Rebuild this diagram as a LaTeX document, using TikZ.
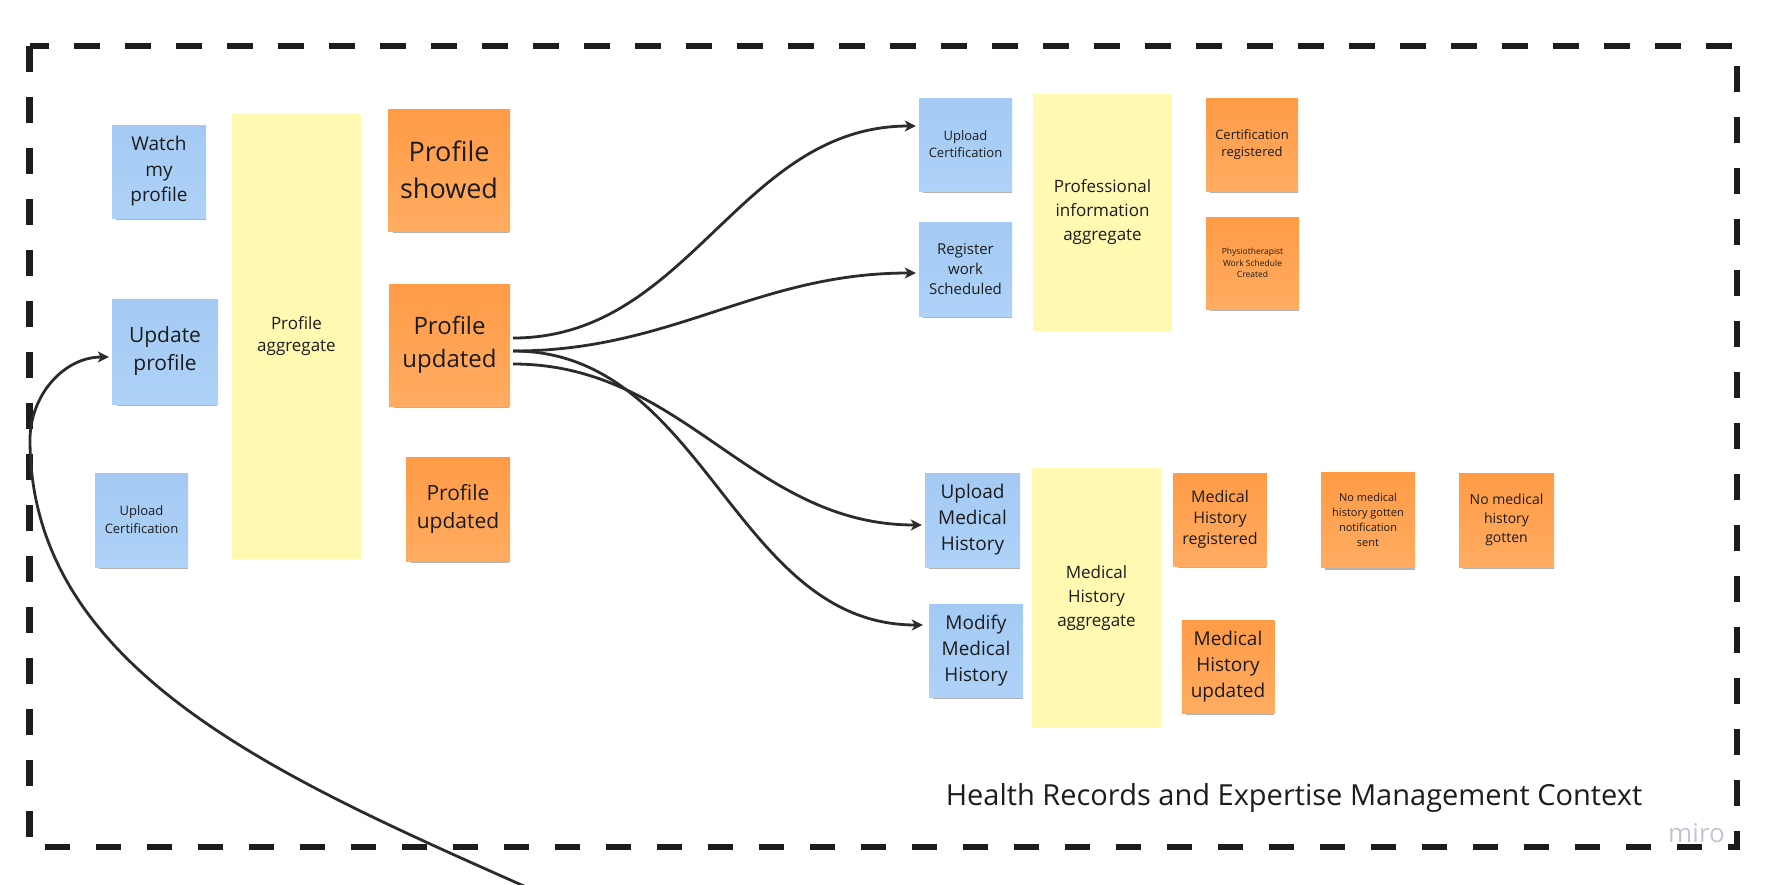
\documentclass[tikz,border=0pt]{standalone}
\usepackage{fontspec}
\setmainfont{Open Sans}
\usetikzlibrary{arrows.meta,shadows}
\definecolor{cmdblue}{RGB}{164,202,244}
\definecolor{cmdblueb}{RGB}{174,210,248}
\definecolor{evtorange}{RGB}{255,155,70}
\definecolor{evtorangeb}{RGB}{255,172,98}
\definecolor{aggyellow}{RGB}{255,249,177}
\definecolor{ink}{RGB}{28,28,28}
\definecolor{wire}{RGB}{43,43,43}
\definecolor{watermark}{RGB}{196,196,210}
\newcommand{\fsz}[2]{\fontsize{#1}{#2}\selectfont}

\begin{document}
\begin{tikzpicture}
        [
            x = 1pt, y = -1pt,
            wh/.style 2 args={minimum width=#1pt, minimum height=#2pt},
            sticky/.style={align=center, text=ink, inner sep=2pt,
                drop shadow={shadow xshift=2pt, shadow yshift=-5pt, shadow scale=.95, opacity=.3, fill=black}},
            cmd/.style={sticky, top color=cmdblue, bottom color=cmdblueb},
            evt/.style={sticky, top color=evtorange, bottom color=evtorangeb},
            agg/.style={fill=aggyellow, align=center, text=ink, inner sep=2pt},
            flow/.style={draw=wire, line width=2.8pt, -{Stealth[length=11pt,width=11pt,inset=3pt]},
                shorten >=3pt, shorten <=3pt},
        ]
        \useasboundingbox (0,0) rectangle (1766,884);
        \draw[line width=6.5pt, draw=ink, dash pattern=on 25.5pt off 25.5pt] (29.5,46) rectangle (1737,847);

        \node[cmd, wh={94}{93}, font=\fsz{19}{25.5}] (watch) at (159,171.5) {Watch\\my\\profile};
        \node[cmd, wh={106}{105}, font=\fsz{21}{28}] (updateProfile) at (165,351.5) {Update\\profile};
        \node[cmd, wh={93}{94}, font=\fsz{13}{18}] (uploadCertA) at (141.5,520) {Upload\\Certification};
        \node[agg, wh={129}{445}, font=\fsz{17}{22}] (profileAgg) at (296.5,336.5) {Profile\\aggregate};
        \node[evt, wh={122}{122}, font=\fsz{27}{37}] (profileShowed) at (449,170) {Profile\\showed};
        \node[evt, wh={121}{122}, font=\fsz{24}{33}] (profileUpdatedA) at (449.5,345) {Profile\\updated};
        \node[evt, wh={104}{104}, font=\fsz{21}{28}] (profileUpdatedB) at (458,509) {Profile\\updated};

        \node[cmd, wh={93}{93}, font=\fsz{13}{17}] (uploadCertB) at (965.5,144.5) {Upload\\Certification};
        \node[cmd, wh={93}{94}, font=\fsz{15}{20}] (registerWork) at (965.5,269) {Register\\work\\Scheduled};
        \node[agg, wh={139}{237}, font=\fsz{17}{24}] (profInfoAgg) at (1102.5,212.5) {Professional\\information\\aggregate};
        \node[evt, wh={92}{93}, font=\fsz{13}{17}] (certRegistered) at (1252,144.5) {Certification\\registered};
        \node[evt, wh={93}{92}, font=\fsz{8.5}{11.7}] (workSchedule) at (1252.5,263) {Physiotherapist\\Work Schedule\\Created};

        \node[cmd, wh={95}{94}, font=\fsz{19}{26}] (uploadMedical) at (972.5,520) {Upload\\Medical\\History};
        \node[cmd, wh={94}{93}, font=\fsz{19}{26}] (modifyMedical) at (976,650.5) {Modify\\Medical\\History};
        \node[agg, wh={129}{260}, font=\fsz{17}{24}] (medicalAgg) at (1096.5,598) {Medical\\History\\aggregate};
        \node[evt, wh={93.5}{93}, font=\fsz{16}{21}] (medicalRegistered) at (1220,519.5) {Medical\\History\\registered};
        \node[evt, wh={94}{95}, font=\fsz{11}{15}] (noHistorySent) at (1368,520) {No medical\\history gotten\\notification\\sent};
        \node[evt, wh={95}{94}, font=\fsz{14}{19}] (noHistory) at (1506.5,520) {No medical\\history\\gotten};
        \node[evt, wh={92.5}{93}, font=\fsz{19}{26}] (medicalUpdated) at (1228,666.5) {Medical\\History\\updated};

        \node[text=ink, font=\fsz{29}{35}, anchor=base] (context) at (1294,805) {Health Records and Expertise Management Context};
        \node[text=watermark, font=\fsz{26}{30}, anchor=base, inner sep=0pt] (miro) at (1696.5,842) {miro};

        \draw[flow] ([yshift=7pt]profileUpdatedA.east) to[out=0, in=180] ([yshift=18.5pt]uploadCertB.west);
        \draw[flow] ([yshift=-6pt]profileUpdatedA.east) to[out=0, in=180] ([yshift=-4pt]registerWork.west);
        \draw[flow] ([yshift=-19pt]profileUpdatedA.east) to[out=0, in=180] ([yshift=-5pt]uploadMedical.west);
        \draw[flow, shorten >=6pt] ([yshift=-6pt]profileUpdatedA.east) to[out=0, in=180] ([yshift=25.5pt]modifyMedical.west);
        \coordinate (offBoard) at (544,895);
        \draw[flow] (offBoard) .. controls (291,782) and (30,675) .. (30,440)
            .. controls (30,395) and (64,357) .. ([yshift=-5.5pt]updateProfile.west);
    \end{tikzpicture}
\end{document}
